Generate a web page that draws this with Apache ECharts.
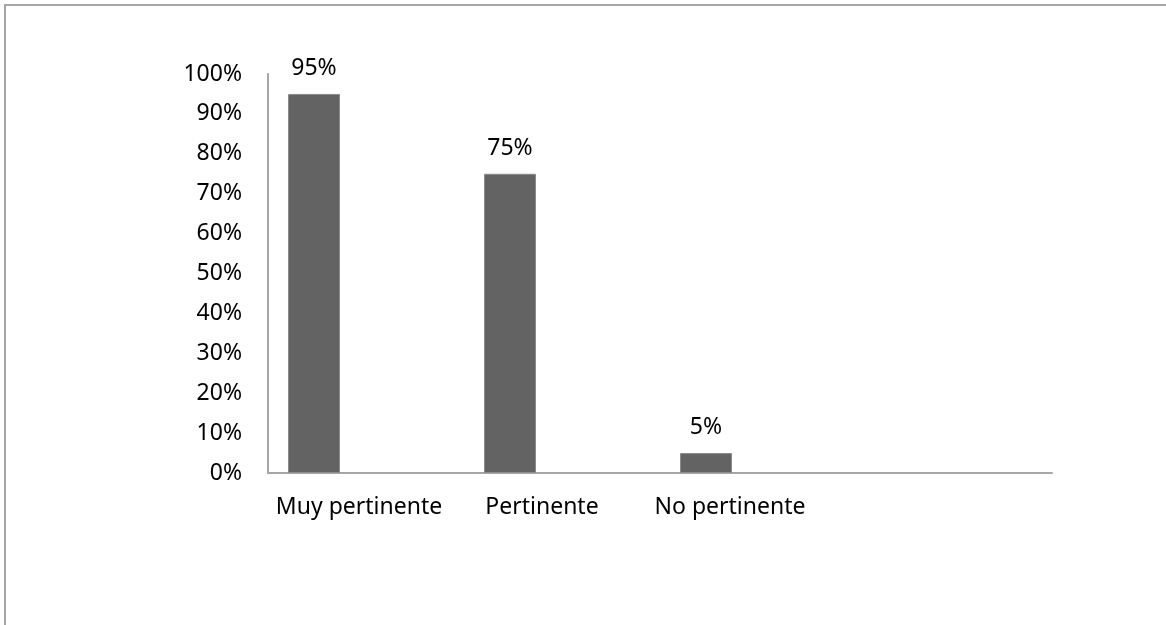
<!DOCTYPE html>
<html>
<head>
<meta charset="utf-8">
<script src="https://cdn.jsdelivr.net/npm/echarts@6/dist/echarts.min.js"></script>
<style>
html,body{margin:0;padding:0;background:#fff;}
#chart{width:1166px;height:625px;}
</style>
</head>
<body>
<div id="chart"></div>
<script>
const categories = ['Muy pertinente', 'Pertinente', 'No pertinente', ''];
const values = [95, 75, 5, null];
const emptySeriesA = [null, null, null, null];
const emptySeriesB = [null, null, null, null];
const yTicks = [0, 10, 20, 30, 40, 50, 60, 70, 80, 90, 100];

const chart = echarts.init(document.getElementById('chart'), null, {renderer: 'canvas'});
const font = '"Noto Sans", "Open Sans", sans-serif';
const fs = 23;
chart.setOption({
  animation: false,
  backgroundColor: '#ffffff',
  graphic: [{
    type: 'rect',
    shape: {x: 5, y: 5, width: 1300, height: 800},
    style: {fill: 'none', stroke: '#a6a6a6', lineWidth: 2},
    silent: true
  }],
  grid: {left: 268, top: 74, right: 114, bottom: 152, containLabel: false},
  xAxis: {
    type: 'category',
    data: categories,
    axisLine: {show: true, lineStyle: {color: '#a6a6a6', width: 2}},
    axisTick: {show: false},
    axisLabel: {
      interval: 0,
      margin: 23,
      fontFamily: font,
      fontSize: fs,
      color: '#000',
      formatter: function (v, i) {
        return v ? '{c' + i + '|' + v + '}' : '';
      },
      rich: {
        c0: {fontFamily: font, fontSize: fs, color: '#000', padding: [0, 14, 0, 0]},
        c1: {fontFamily: font, fontSize: fs, color: '#000', padding: [0, 40, 0, 0]},
        c2: {fontFamily: font, fontSize: fs, color: '#000', padding: [0, 56, 0, 0]}
      }
    },
    splitLine: {show: false}
  },
  yAxis: {
    type: 'value',
    min: 0,
    max: 100,
    interval: 10,
    axisLine: {show: true, lineStyle: {color: '#a6a6a6', width: 2}},
    axisTick: {show: false},
    splitLine: {show: false},
    axisLabel: {
      margin: 26,
      fontFamily: font,
      fontSize: fs,
      color: '#000',
      formatter: function (v) { return yTicks.indexOf(v) >= 0 ? v + '%' : ''; }
    }
  },
  series: [{
    type: 'bar',
    data: values,
    barWidth: 52,
    barGap: '0%',
    itemStyle: {color: '#636363', borderColor: '#8c8c8c', borderWidth: 1},
    label: {
      show: true,
      position: 'top',
      distance: 14,
      fontFamily: font,
      fontSize: fs,
      color: '#000',
      formatter: function (p) { return p.value + '%'; }
    }
  }, {
    type: 'bar',
    data: emptySeriesA,
    barWidth: 52,
    barGap: '0%'
  }, {
    type: 'bar',
    data: emptySeriesB,
    barWidth: 52,
    barGap: '0%'
  }]
});
</script>
</body>
</html>
